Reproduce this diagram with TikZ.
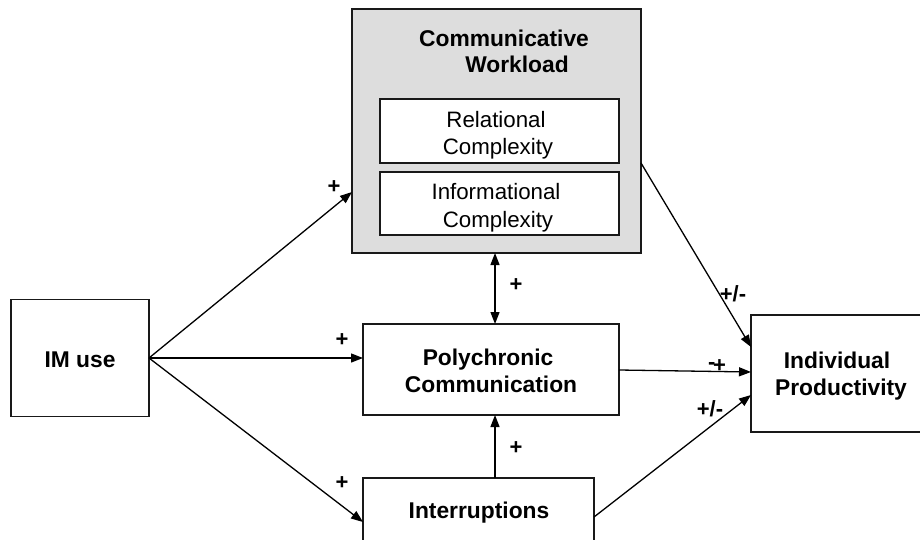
\documentclass[tikz,border=0pt]{standalone}
\usepackage{fontspec}
\setmainfont{Liberation Sans}
\usetikzlibrary{arrows.meta}
\definecolor{cwgray}{RGB}{221,221,221}
\begin{document}
\begin{tikzpicture}[x=1pt,y=-1pt,
  box/.style={draw=black!90, line width=1.4pt, inner sep=0pt, outer sep=0pt},
  txt/.style={font=\fontsize{22.3}{27}\selectfont, anchor=base, inner sep=0pt},
  btxt/.style={font=\fontsize{22.8}{27}\selectfont\bfseries, anchor=base, inner sep=0pt},
  sgn/.style={font=\fontsize{22}{22}\selectfont\bfseries, inner sep=0pt},
  arr/.style={-{Triangle[length=12pt,width=9pt]}, line width=1.3pt},
  darr/.style={{Triangle[length=12pt,width=9pt]}-{Triangle[length=12pt,width=9pt]}, line width=1.3pt}]
\useasboundingbox (0,0) rectangle (920,540);
\clip (0,0) rectangle (920,540);
\fill[white] (0,0) rectangle (920,540);
% boxes
\node[box, minimum width=138pt, minimum height=117pt] (im) at (80,358) {};
\node[box, fill=cwgray, minimum width=289pt, minimum height=244pt] (cw) at (496.5,131) {};
\node[box, fill=white, minimum width=239pt, minimum height=64pt] (rel) at (499.5,131) {};
\node[box, fill=white, minimum width=239pt, minimum height=63pt] (inf) at (499.5,203.5) {};
\node[box, minimum width=256pt, minimum height=91pt] (poly) at (491,369.5) {};
\node[box, minimum width=231pt, minimum height=92pt] (intr) at (478.5,524) {};
\node[box, minimum width=189pt, minimum height=117pt] (ip) at (845.5,373.5) {};
% texts
\node[btxt] (imt) at (80,367) {IM use};
\node[btxt] (cwt1) at (504,47) {Communicative};
\node[btxt] (cwt2) at (517,73) {Workload};
\node[txt] (relt1) at (496,128) {Relational};
\node[txt] (relt2) at (498,155) {Complexity};
\node[txt] (inft1) at (496,200) {Informational};
\node[txt] (inft2) at (498,227) {Complexity};
\node[btxt] (polyt1) at (488,365) {Polychronic};
\node[btxt] (polyt2) at (491,392) {Communication};
\node[btxt] (intrt) at (479,518) {Interruptions};
\node[btxt] (ipt1) at (837,368) {Individual};
\node[btxt] (ipt2) at (841,395) {Productivity};
% connectors
\draw[arr] (im.east) -- (cw.west |- 0,192);
\draw[arr] (im.east) -- (poly.west |- im.east);
\draw[arr] (im.east) -- (intr.west |- 0,522);
\draw[darr] (cw.south -| 495,0) -- (poly.north -| 495,0);
\draw[arr] (intr.north -| 495,0) -- (poly.south -| 495,0);
\draw[arr] (cw.east |- 0,163) -- (ip.west |- 0,347);
\draw[arr] (poly.east |- 0,370) -- (ip.west |- 0,372);
\draw[arr] (intr.east |- 0,517) -- (ip.west |- 0,395);
% signs
\node[sgn] (s1) at (334,187) {+};
\node[sgn] (s2) at (342,340) {+};
\node[sgn] (s3) at (342,483) {+};
\node[sgn] (s4) at (516,285) {+};
\node[sgn] (s5) at (516,448) {+};
\node[sgn] (s6) at (733,294) {+/-};
\node[sgn] (s7) at (710,409) {+/-};
\node[sgn] (s8) at (717,366) {\raisebox{3pt}{-}\kern-2.5pt+};
\end{tikzpicture}
\end{document}
